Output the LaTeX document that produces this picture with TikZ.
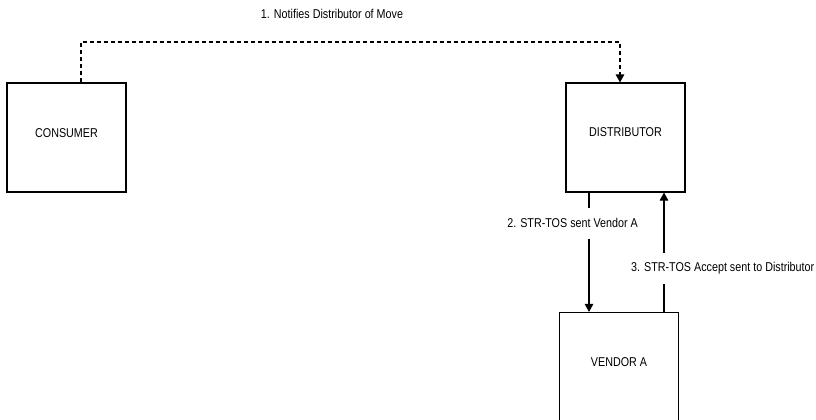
\documentclass[tikz,border=0pt]{standalone}
\usepackage{fontspec}
\setmainfont{Liberation Sans}[FakeStretch=0.84]
\usetikzlibrary{arrows.meta}
\begin{document}
\begin{tikzpicture}[x=1pt,y=-1pt,
  font=\fontsize{12.8}{14}\selectfont,
  box/.style={draw=black,line width=1.1pt,minimum width=119pt,minimum height=109pt,inner sep=0pt},
  boxtext/.style={inner sep=0pt,text=black},
  flow/.style={line width=1.1pt,-{Triangle[length=8pt,width=8.5pt]}},
  msg/.style={line width=1.1pt,dash pattern=on 4pt off 3pt,-{Triangle[length=8pt,width=8.5pt]}},
  tag/.style={fill=white,inner sep=0pt,minimum height=31pt,text=black}]
  \useasboundingbox (0,0) rectangle (816,420);
  \clip (0,0) rectangle (816,420);

  % boxes
  \node[box] (consumer) at (66.5,137.5) {};
  \node[box] (distributor) at (625.5,137.5) {};
  \node[box] (vendor) at (619,367) {};
  \node[boxtext] (consumer-t) at (66.5,133) {CONSUMER};
  \node[boxtext] (distributor-t) at (625.5,132) {DISTRIBUTOR};
  \node[boxtext] (vendor-t) at (619,362) {VENDOR A};

  % step 1: consumer notifies distributor
  \coordinate (c1) at (81,42);
  \coordinate (c2) at (620,42);
  \draw[msg] (consumer.north -| c1) -- (c1) -- (c2) -- (c2 |- distributor.north);
  \node[boxtext] (note1) at (332,14) {1. Notifies Distributor of Move};

  % step 2: distributor to vendor
  \coordinate (d2) at (589,0);
  \draw[flow] (distributor.south -| d2) -- (vendor.north -| d2);
  \node[tag,anchor=east] (note2) at (638,223) {2. STR-TOS sent Vendor A};

  % step 3: vendor back to distributor
  \coordinate (d3) at (664,0);
  \draw[flow] (vendor.north -| d3) -- (distributor.south -| d3);
  \node[tag,anchor=west] (note3) at (631,268) {3. STR-TOS Accept sent to Distributor};
\end{tikzpicture}
\end{document}
